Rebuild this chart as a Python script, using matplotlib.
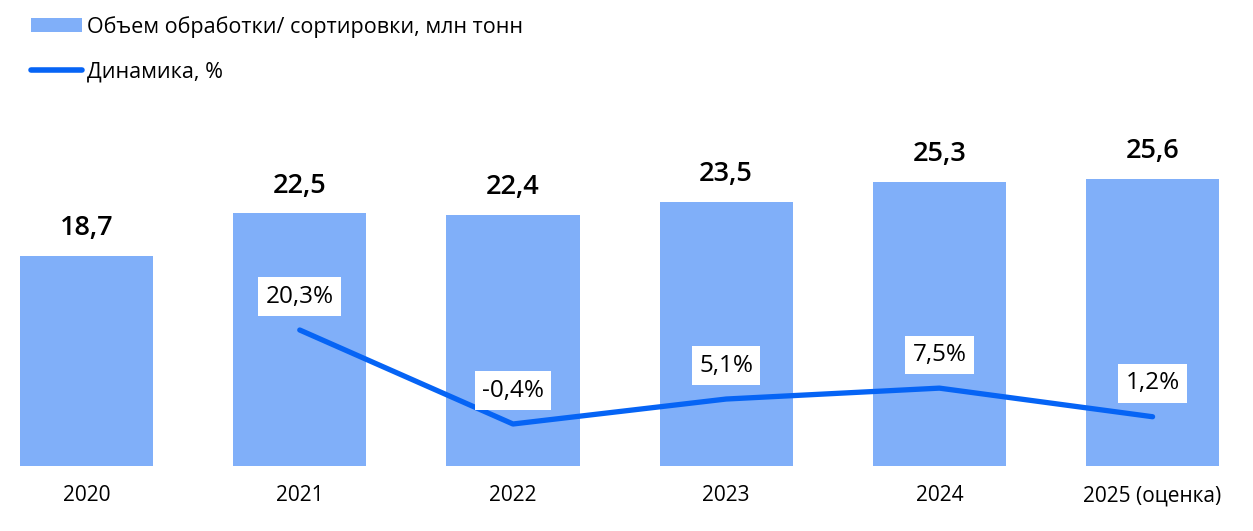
import numpy as np
import matplotlib.pyplot as plt
from matplotlib.patches import Patch
from matplotlib.lines import Line2D

plt.rcParams['font.family'] = ['Open Sans', 'DejaVu Sans']

# Data
years = ['2020', '2021', '2022', '2023', '2024', '2025 (оценка)']
volume = [18.7, 22.5, 22.4, 23.5, 25.3, 25.6]          # млн тонн
growth = [np.nan, 20.3, -0.4, 5.1, 7.5, 1.2]           # %

bar_color = '#80AFF9'
line_color = '#0664F5'

fig = plt.figure(figsize=(12.53, 5.31), dpi=100)
ax = fig.add_axes([0, 65 / 531, 1, 366 / 531])
x = np.arange(len(years))

ax.bar(x, volume, width=0.625, color=bar_color, zorder=1)
ax.set_xlim(-0.406, 5.471)
ax.set_ylim(0, 32.6)

for xi, v in zip(x, volume):
    ax.annotate(f'{v:.1f}'.replace('.', ','), (xi, v), xytext=(0, 20),
                textcoords='offset points', ha='center', va='center',
                fontsize=19.5, fontweight='semibold', color='black')

ax.set_xticks(x)
ax.set_xticklabels(years, fontsize=15)
ax.tick_params(axis='x', length=0, pad=14)
ax.set_yticks([])
for s in ax.spines.values():
    s.set_visible(False)

# Growth line on secondary axis
ax2 = ax.twinx()
ax2.set_ylim(-9.65, 70.96)
ax2.plot(x, growth, color=line_color, lw=3.8, solid_capstyle='round',
         solid_joinstyle='round', zorder=3)
for xi, g in zip(x, growth):
    if np.isnan(g):
        continue
    ax2.annotate(f'{g:.1f}%'.replace('.', ','), (xi, g), xytext=(0, 24),
                 textcoords='offset points', ha='center', va='center',
                 fontsize=17.5, color='black', zorder=4,
                 bbox=dict(boxstyle='square,pad=0.3', facecolor='white',
                           edgecolor='none'))
ax2.set_yticks([])
for s in ax2.spines.values():
    s.set_visible(False)

# Legend
handles = [Patch(facecolor=bar_color, edgecolor='none'),
           Line2D([0], [0], color=line_color, lw=4, solid_capstyle='round')]
labels = ['Объем обработки/ сортировки, млн тонн', 'Динамика, %']
fig.legend(handles, labels, loc='upper left', bbox_to_anchor=(31 / 1253, 1 - 16 / 531),
           frameon=False, fontsize=15.5, handlelength=2.35, handleheight=0.6,
           handletextpad=0.25, labelspacing=1.1, borderpad=0, borderaxespad=0)

fig.savefig('out.png', dpi=100)
